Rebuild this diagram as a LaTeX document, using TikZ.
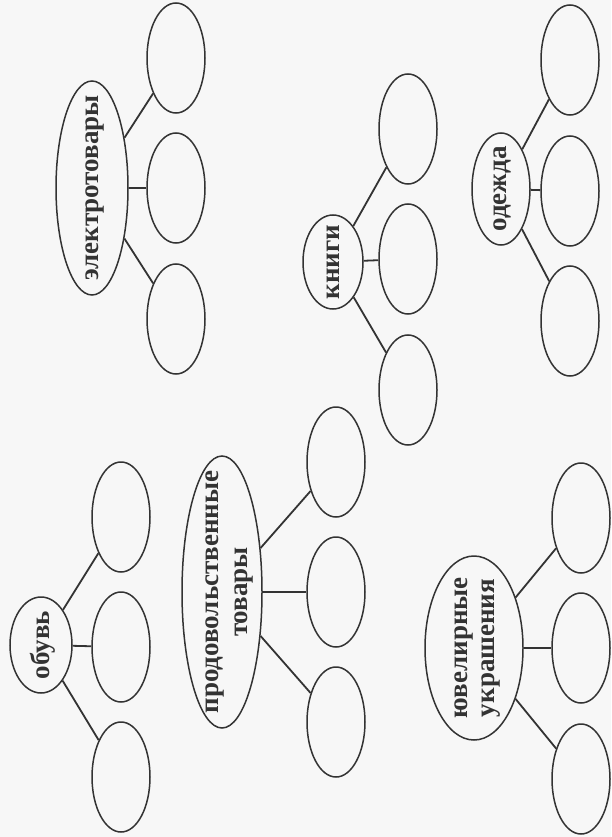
\documentclass[tikz,border=0pt]{standalone}
\usepackage{fontspec}
\setmainfont{Liberation Serif}
\usetikzlibrary{shapes.geometric,calc}
\definecolor{ink}{HTML}{333333}
\definecolor{paper}{HTML}{F7F7F7}
\tikzset{
  oval/.style={ellipse, draw=ink, line width=1.5pt, inner sep=0pt, rotate=90},
  leaf/.style={oval, minimum width=110pt, minimum height=58pt},
  lbl/.style={rotate=90, inner sep=0pt, font=\fontsize{27}{29}\selectfont\bfseries, text=ink, align=center},
  conn/.style={draw=ink, line width=1.8pt}
}
\begin{document}
\begin{tikzpicture}[x=1pt,y=-1pt]
\fill[paper] (0,0) rectangle (611,837);
\useasboundingbox (0,0) rectangle (611,837);
% электротовары
\node[oval, minimum width=214pt, minimum height=72pt] (E) at (92,188) {};
\node[lbl] (Et) at ($(E)+(3,0)$) {электротовары};
\node[leaf] (E1) at (176,58) {};
\node[leaf] (E2) at (176,188) {};
\node[leaf] (E3) at (176,319) {};
\draw[conn] (E) -- (E1); \draw[conn] (E) -- (E2); \draw[conn] (E) -- (E3);
% книги
\node[oval, minimum width=94pt, minimum height=60pt] (K) at (333,262) {};
\node[lbl] (Kt) at (K) {книги};
\node[leaf] (K1) at (408,129) {};
\node[leaf] (K2) at (408,259) {};
\node[leaf] (K3) at (408,390) {};
\draw[conn] (K) -- (K1); \draw[conn] (K) -- (K2); \draw[conn] (K) -- (K3);
% одежда
\node[oval, minimum width=112pt, minimum height=58pt] (O) at (501,189) {};
\node[lbl] (Ot) at ($(O)+(1.5,0)$) {одежда};
\node[leaf] (O1) at (570,60) {};
\node[leaf] (O2) at (570,191) {};
\node[leaf] (O3) at (570,321) {};
\draw[conn] (O) -- (O1); \draw[conn] (O) -- (O2); \draw[conn] (O) -- (O3);
% обувь
\node[oval, minimum width=96pt, minimum height=62pt] (B) at (41,645) {};
\node[lbl] (Bt) at ($(B)+(2,0)$) {обувь};
\node[leaf] (B1) at (121,517) {};
\node[leaf] (B2) at (121,647) {};
\node[leaf] (B3) at (121,777) {};
\draw[conn] (B) -- (B1); \draw[conn] (B) -- (B2); \draw[conn] (B) -- (B3);
% продовольственные товары
\node[oval, minimum width=272pt, minimum height=80pt] (P) at (222,592) {};
\node[lbl] (Pt) at ($(P)+(8,0)$) {продовольственные\\товары};
\node[leaf] (P1) at (336,462) {};
\node[leaf] (P2) at (336,592) {};
\node[leaf] (P3) at (336,722) {};
\draw[conn] (P) -- (P1); \draw[conn] (P) -- (P2); \draw[conn] (P) -- (P3);
% ювелирные украшения
\node[oval, minimum width=184pt, minimum height=98pt] (J) at (474,648) {};
\node[lbl, font=\fontsize{27}{27}\selectfont\bfseries] (Jt) at ($(J)+(4,0)$) {ювелирные\\украшения};
\node[leaf] (J1) at (581,518) {};
\node[leaf] (J2) at (581,648) {};
\node[leaf] (J3) at (581,779) {};
\draw[conn] (J) -- (J1); \draw[conn] (J) -- (J2); \draw[conn] (J) -- (J3);
\end{tikzpicture}
\end{document}
